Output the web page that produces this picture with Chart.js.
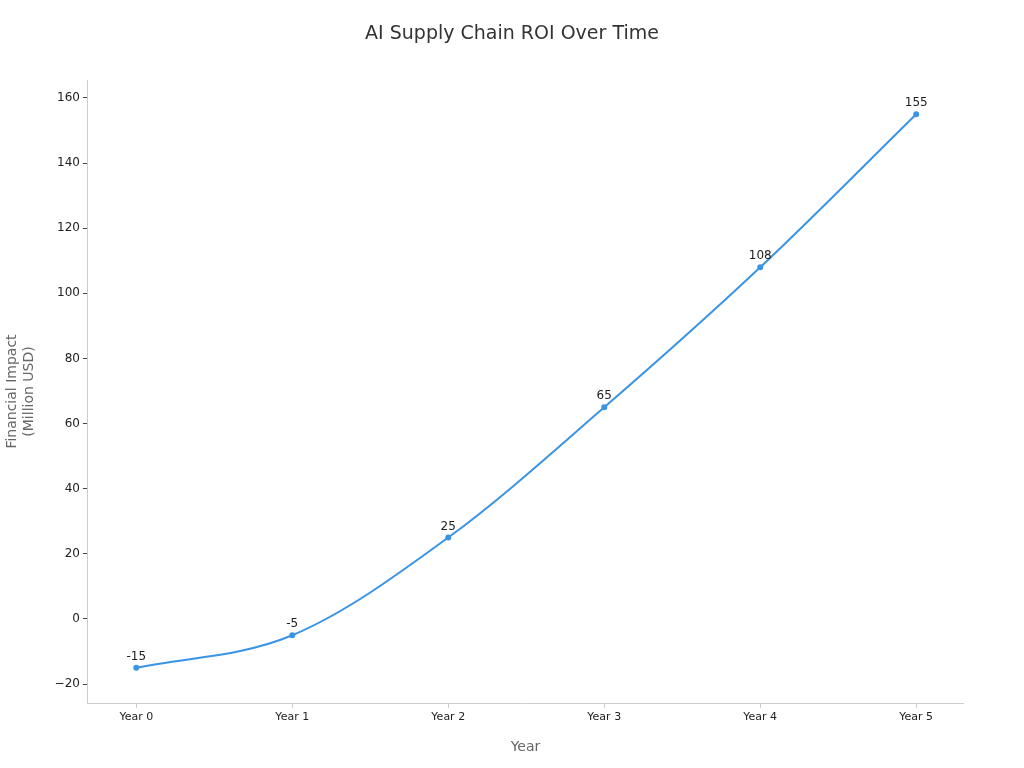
<!DOCTYPE html>
<html>
<head>
<meta charset="utf-8">
<script src="https://cdn.jsdelivr.net/npm/chart.js@4"></script>
<style>
  body { margin: 0; background: #fff; }
  #wrap { width: 1024px; height: 768px; position: relative; }
</style>
</head>
<body>
<div id="wrap"><canvas id="roiChart"></canvas></div>
<script>
// data
const years = ['Year 0', 'Year 1', 'Year 2', 'Year 3', 'Year 4', 'Year 5'];
const roiValues = [-15, -5, 25, 65, 108, 155];
const yTicks = [-20, 0, 20, 40, 60, 80, 100, 120, 140, 160];
const chartTitle = 'AI Supply Chain ROI Over Time';

const lineColor = '#3a94e6';

// labels above points + centred title
const pointLabels = {
  id: 'pointLabels',
  afterDatasetsDraw(chart) {
    const ctx = chart.ctx;
    const meta = chart.getDatasetMeta(0);
    ctx.save();
    ctx.font = '12px "DejaVu Sans"';
    ctx.fillStyle = '#222';
    ctx.textAlign = 'center';
    ctx.textBaseline = 'bottom';
    meta.data.forEach((pt, i) => {
      ctx.fillText(String(roiValues[i]), pt.x, pt.y - 5);
    });
    ctx.font = '19px "DejaVu Sans"';
    ctx.fillStyle = '#333';
    ctx.textBaseline = 'middle';
    ctx.fillText(chartTitle, chart.width / 2, 34);
    ctx.restore();
  }
};

new Chart(document.getElementById('roiChart'), {
  type: 'line',
  data: {
    datasets: [{
      data: roiValues.map((v, i) => ({ x: i, y: v })),
      borderColor: lineColor,
      backgroundColor: lineColor,
      borderWidth: 2,
      pointRadius: 2,
      cubicInterpolationMode: 'monotone'
    }]
  },
  plugins: [pointLabels],
  options: {
    responsive: true,
    maintainAspectRatio: false,
    animation: false,
    layout: { padding: { left: 0, right: 61, top: 80, bottom: 8 } },
    plugins: {
      legend: { display: false },
      tooltip: { enabled: false },
      title: { display: false }
    },
    scales: {
      x: {
        type: 'linear',
        min: -0.31,
        max: 5.3,
        afterBuildTicks: axis => { axis.ticks = years.map((_, i) => ({ value: i })); },
        ticks: {
          color: '#222',
          font: { family: 'DejaVu Sans', size: 11 },
          callback: v => years[v]
        },
        grid: { drawOnChartArea: false, drawTicks: true, tickLength: 5, color: '#ccc' },
        border: { color: '#ccc' },
        title: {
          display: true,
          text: 'Year',
          color: '#666',
          font: { family: 'DejaVu Sans', size: 14 },
          padding: { top: 12 }
        }
      },
      y: {
        min: -25.8,
        max: 165.5,
        afterBuildTicks: axis => { axis.ticks = yTicks.map(v => ({ value: v })); },
        ticks: {
          color: '#222',
          font: { family: 'DejaVu Sans', size: 12 },
          callback: v => v < 0 ? '\u2212' + Math.abs(v) : v
        },
        grid: { drawOnChartArea: false, drawTicks: true, tickLength: 5, color: '#444' },
        border: { color: '#ccc' },
        title: {
          display: true,
          text: ['Financial Impact', '(Million USD)'],
          color: '#666',
          font: { family: 'DejaVu Sans', size: 14 },
          padding: { bottom: 14 }
        }
      }
    }
  }
});
</script>
</body>
</html>
